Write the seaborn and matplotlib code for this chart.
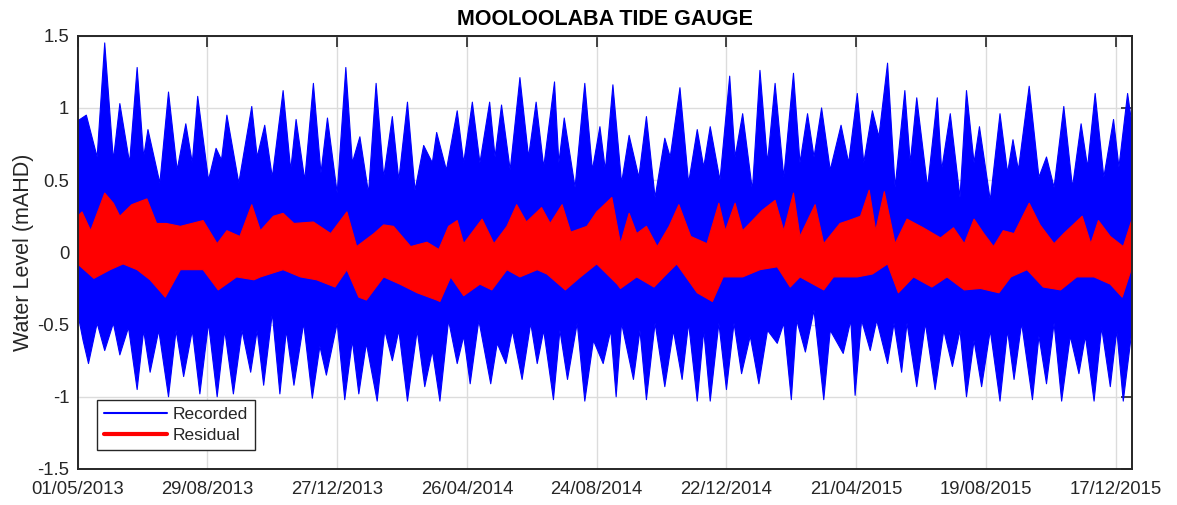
import numpy as np
import pandas as pd
import matplotlib
matplotlib.use('Agg')
import matplotlib.pyplot as plt
import matplotlib.dates as mdates
from matplotlib.lines import Line2D
import seaborn as sns

# Envelope of the recorded / residual water level (mAHD).
# Days are counted from 01/05/2013.
start = pd.Timestamp('2013-05-01')

rec_hi_day = [0, 8, 18, 25, 33, 39, 48, 55, 61, 65, 76, 84, 92, 100, 106, 111, 121, 128, 133, 138, 149, 161,
              166, 173, 180, 190, 197, 202, 210, 218, 225, 231, 240, 248, 254, 261, 269, 276, 283, 291, 297, 305, 312, 320, 328,
              332, 341, 351, 357, 365, 372, 381, 386, 392, 400, 409, 417, 424, 431, 441, 445, 450, 460, 469, 476, 483, 488, 495,
              503, 510, 519, 526, 534, 543, 548, 557, 565, 573, 579, 585, 594, 603, 608, 615, 624, 631, 638, 645, 653, 662,
              668, 675, 681, 688, 696, 706, 713, 721, 727, 735, 741, 749, 756, 765, 770, 776, 786, 795, 799, 807, 816, 822,
              829, 834, 844, 853, 860, 865, 870, 880, 889, 896, 903, 912, 920, 928, 934, 941, 949, 958, 963, 971, 975]
rec_hi = [0.91, 0.95, 0.66, 1.45, 0.64, 1.03, 0.62, 1.28, 0.66, 0.85, 0.48, 1.11, 0.57, 0.89, 0.62, 1.08, 0.50, 0.72, 0.64, 0.95, 0.48, 1.01,
          0.66, 0.88, 0.52, 1.12, 0.57, 0.92, 0.50, 1.17, 0.55, 0.93, 0.41, 1.28, 0.62, 0.80, 0.41, 1.17, 0.52, 0.94, 0.50, 1.04, 0.43, 0.74, 0.62,
          0.83, 0.57, 0.98, 0.62, 1.04, 0.62, 1.04, 0.66, 1.02, 0.57, 1.21, 0.66, 1.04, 0.59, 1.18, 0.62, 0.93, 0.45, 1.17, 0.57, 0.87, 0.57, 1.16,
          0.48, 0.81, 0.52, 0.94, 0.38, 0.79, 0.66, 1.14, 0.48, 0.85, 0.59, 0.87, 0.50, 1.22, 0.66, 0.96, 0.43, 1.26, 0.62, 1.17, 0.52, 1.24,
          0.62, 0.96, 0.66, 1.00, 0.57, 0.88, 0.62, 1.10, 0.62, 0.98, 0.80, 1.31, 0.45, 1.12, 0.62, 1.07, 0.45, 1.07, 0.57, 0.96, 0.38, 1.12,
          0.62, 0.87, 0.36, 0.96, 0.55, 0.78, 0.57, 1.15, 0.52, 0.66, 0.45, 1.01, 0.45, 0.89, 0.59, 1.10, 0.52, 0.92, 0.59, 1.10, 0.89]

rec_lo_day = [0, 5, 10, 18, 25, 33, 39, 47, 55, 61, 67, 75, 84, 91, 98, 106, 113, 121, 129, 136, 144, 152, 160,
              166, 172, 180, 187, 193, 200, 209, 217, 224, 230, 240, 247, 254, 260, 267, 277, 284, 291, 297, 305, 314, 321, 328,
              335, 343, 351, 357, 363, 371, 382, 388, 396, 402, 411, 419, 425, 431, 440, 446, 453, 462, 469, 477, 486, 493, 498,
              503, 514, 520, 526, 534, 543, 551, 559, 565, 573, 579, 585, 593, 600, 607, 614, 622, 630, 638, 647, 653, 660,
              665, 673, 681, 690, 696, 708, 715, 719, 725, 733, 739, 749, 755, 762, 767, 776, 784, 793, 801, 809, 816, 822,
              829, 836, 844, 853, 860, 866, 873, 883, 889, 896, 903, 910, 918, 926, 932, 940, 947, 955, 961, 967, 975]
rec_lo = [-0.42, -0.61, -0.77, -0.49, -0.68, -0.49, -0.71, -0.52, -0.95, -0.54, -0.83, -0.54, -1.00, -0.54, -0.86, -0.54, -0.98, -0.49, -1.00, -0.54, -0.98, -0.54, -0.83,
          -0.54, -0.92, -0.42, -0.98, -0.54, -0.92, -0.49, -1.01, -0.65, -0.85, -0.49, -1.02, -0.61, -0.98, -0.63, -1.03, -0.54, -0.75, -0.54, -1.03, -0.54, -0.93, -0.68,
          -1.03, -0.47, -0.77, -0.58, -0.91, -0.47, -0.91, -0.63, -0.77, -0.54, -0.88, -0.49, -0.77, -0.54, -1.02, -0.54, -0.88, -0.49, -1.03, -0.61, -0.77, -0.54, -1.00,
          -0.49, -0.88, -0.54, -1.02, -0.49, -0.93, -0.54, -0.88, -0.49, -1.03, -0.54, -1.03, -0.49, -0.95, -0.49, -0.84, -0.58, -0.91, -0.54, -0.63, -0.49, -1.02,
          -0.47, -0.69, -0.40, -1.02, -0.54, -0.70, -0.47, -0.99, -0.47, -0.68, -0.47, -0.77, -0.49, -0.83, -0.49, -0.93, -0.49, -0.95, -0.54, -0.79, -0.54, -1.00,
          -0.61, -0.93, -0.54, -1.03, -0.54, -0.88, -0.49, -1.02, -0.58, -0.91, -0.49, -1.03, -0.58, -0.84, -0.58, -1.03, -0.52, -0.93, -0.54, -1.03, -0.54]

res_hi_day = [0, 4, 12, 25, 33, 39, 50, 64, 73, 82, 95, 116, 129, 138, 150, 161,
              169, 181, 190, 200, 218, 234, 249, 258, 274, 283, 292, 308, 323, 334,
              343, 351, 357, 374, 385, 397, 406, 415, 429, 437, 448, 456, 471, 480, 494,
              502, 510, 517, 526, 536, 547, 556, 567, 582, 593, 599, 608, 615, 633, 645, 653, 662,
              668, 682, 690, 705, 713, 724, 732, 738, 746, 756, 767, 782, 798, 810, 820, 829,
              838, 847, 856, 866, 880, 890, 903, 912, 929, 937, 944, 955, 967, 976]
res_hi = [0.25, 0.28, 0.15, 0.41, 0.34, 0.25, 0.33, 0.37, 0.20, 0.20, 0.18, 0.22, 0.06, 0.15, 0.11, 0.33,
          0.15, 0.25, 0.27, 0.20, 0.21, 0.13, 0.28, 0.04, 0.13, 0.19, 0.18, 0.04, 0.07, 0.02,
          0.18, 0.22, 0.06, 0.23, 0.06, 0.18, 0.33, 0.21, 0.31, 0.20, 0.33, 0.14, 0.18, 0.28, 0.38,
          0.06, 0.27, 0.13, 0.18, 0.04, 0.18, 0.33, 0.11, 0.06, 0.34, 0.15, 0.34, 0.15, 0.29, 0.36, 0.15, 0.41,
          0.11, 0.33, 0.06, 0.20, 0.22, 0.25, 0.43, 0.15, 0.42, 0.06, 0.23, 0.17, 0.10, 0.17, 0.06, 0.23,
          0.13, 0.04, 0.15, 0.13, 0.34, 0.19, 0.06, 0.13, 0.25, 0.06, 0.22, 0.11, 0.04, 0.25]

res_lo_day = [0, 15, 30, 42, 55, 67, 81, 95, 116, 130, 147, 163,
              169, 190, 206, 221, 238, 249, 260, 267, 283, 298, 314, 332,
              335, 345, 357, 372, 383, 397, 409, 425, 434, 451, 465, 480, 499,
              502, 517, 533, 542, 554, 573, 587, 597, 615, 631, 647, 659,
              668, 690, 699, 721, 735, 749, 759, 773, 790, 804, 820,
              835, 852, 863, 878, 893, 909, 924, 940, 955, 966, 976]
res_lo = [-0.08, -0.18, -0.12, -0.08, -0.12, -0.19, -0.31, -0.12, -0.12, -0.26, -0.17, -0.19,
          -0.17, -0.12, -0.17, -0.19, -0.24, -0.12, -0.31, -0.33, -0.17, -0.22, -0.28, -0.33,
          -0.34, -0.17, -0.30, -0.22, -0.26, -0.12, -0.17, -0.12, -0.15, -0.26, -0.17, -0.08, -0.22,
          -0.25, -0.17, -0.24, -0.17, -0.08, -0.28, -0.34, -0.17, -0.17, -0.12, -0.10, -0.24,
          -0.17, -0.26, -0.17, -0.17, -0.15, -0.08, -0.28, -0.17, -0.24, -0.17, -0.26,
          -0.25, -0.28, -0.17, -0.12, -0.24, -0.26, -0.17, -0.17, -0.22, -0.31, -0.08]

tick_labels = ['01/05/2013', '29/08/2013', '27/12/2013', '26/04/2014', '24/08/2014',
               '22/12/2014', '21/04/2015', '19/08/2015', '17/12/2015']


def to_dates(days):
    return start + pd.to_timedelta(days, unit='D')


# long-form table of the four envelope edges
edges = pd.concat([
    pd.DataFrame({'date': to_dates(rec_hi_day), 'level': rec_hi, 'edge': 'rec_hi'}),
    pd.DataFrame({'date': to_dates(rec_lo_day), 'level': rec_lo, 'edge': 'rec_lo'}),
    pd.DataFrame({'date': to_dates(res_hi_day), 'level': res_hi, 'edge': 'res_hi'}),
    pd.DataFrame({'date': to_dates(res_lo_day), 'level': res_lo, 'edge': 'res_lo'}),
], ignore_index=True)

sns.set_style('white')
plt.rcParams['font.family'] = ['Liberation Sans', 'DejaVu Sans']

fig, ax = plt.subplots(figsize=(11.77, 5.05), dpi=100)
fig.subplots_adjust(left=0.066, right=0.9617, bottom=0.0713, top=0.9293)

# filled bands (recorded under residual)
for hi_name, lo_name, col, z in [('rec_hi', 'rec_lo', 'blue', 2), ('res_hi', 'res_lo', 'red', 3)]:
    hi = edges[edges.edge == hi_name]
    lo = edges[edges.edge == lo_name]
    xs = np.concatenate([mdates.date2num(hi.date), mdates.date2num(lo.date)[::-1]])
    ys = np.concatenate([hi.level.values, lo.level.values[::-1]])
    ax.fill(xs, ys, color=col, lw=0, zorder=z)

# edge lines of the bands
sns.lineplot(data=edges[edges.edge.str.startswith('rec')], x='date', y='level', units='edge',
             estimator=None, color='blue', linewidth=0.8, legend=False, ax=ax, zorder=2.5)
sns.lineplot(data=edges[edges.edge.str.startswith('res')], x='date', y='level', units='edge',
             estimator=None, color='red', linewidth=0.8, legend=False, ax=ax, zorder=3.5)

# axes cosmetics (MATLAB-like)
ax.set_xlim(start, pd.Timestamp('2016-01-01'))
ax.set_ylim(-1.5, 1.5)
ax.set_yticks([-1.5, -1, -0.5, 0, 0.5, 1, 1.5])
ax.set_yticklabels(['-1.5', '-1', '-0.5', '0', '0.5', '1', '1.5'])
tick_dates = [pd.to_datetime(t, format='%d/%m/%Y') for t in tick_labels]
ax.set_xticks(tick_dates)
ax.set_xticklabels(tick_labels)
ax.grid(True, color='#dcdcdc', linewidth=1.0)
ax.set_axisbelow(True)
ax.tick_params(direction='in', length=8, width=1.2, color='#262626', labelcolor='#262626',
               top=True, right=True, labelsize=13.3, pad=6)
ax.tick_params(axis='x', pad=9)
for s in ax.spines.values():
    s.set_color('#262626')
    s.set_linewidth(1.4)
    s.set_zorder(5)

ax.set_xlabel('')
ax.set_ylabel('Water Level (mAHD)', fontsize=15.5, color='#262626', labelpad=2)
ax.set_title('MOOLOOLABA TIDE GAUGE', fontsize=15.5, fontweight='bold', color='black', pad=7.5)

handles = [Line2D([], [], color='blue', lw=1.5, label='Recorded'),
           Line2D([], [], color='red', lw=3, label='Residual')]
leg = ax.legend(handles=handles, loc='lower left', bbox_to_anchor=(0.0185, 0.044),
                borderaxespad=0, fancybox=False, framealpha=1, edgecolor='#262626',
                fontsize=12.5, handlelength=3.65, handletextpad=0.3, borderpad=0.4,
                labelspacing=0.35)
leg.get_frame().set_linewidth(1.0)
leg.set_zorder(6)

fig.savefig('out.png', dpi=100)
